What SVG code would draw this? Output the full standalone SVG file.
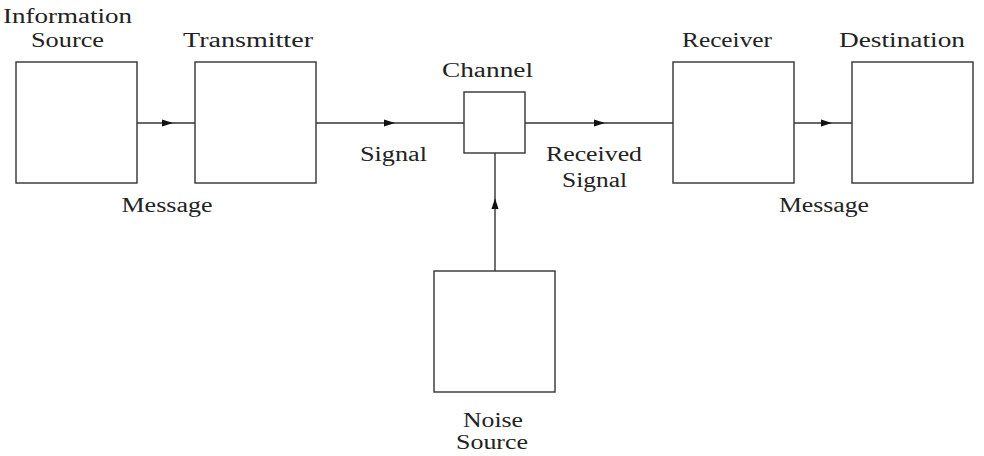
<svg xmlns="http://www.w3.org/2000/svg" width="984" height="456" viewBox="0 0 984 456">
<style>
.box{fill:#fff;stroke:#333;stroke-width:1.4}
.wire{fill:none;stroke:#333;stroke-width:1.4;marker-mid:url(#ah)}
text{font-family:"Liberation Serif","Times New Roman",serif;font-size:20px;fill:#222;text-anchor:middle}
</style>
<defs>
<marker id="ah" markerUnits="userSpaceOnUse" markerWidth="11" markerHeight="8" refX="11" refY="4" orient="auto">
<path d="M0,0.5 L11,4 L0,7.5 z" fill="#111"/>
</marker>
</defs>
<rect width="984" height="456" fill="#fff"/>
<g id="connectors">
<path class="wire" d="M137 123 L173 123 L195 123"/>
<path class="wire" d="M316 123 L395 123 L464 123"/>
<path class="wire" d="M525 123 L605 123 L673 123"/>
<path class="wire" d="M794 123 L832 123 L852 123"/>
<path class="wire" d="M495 271 L495 198 L495 153"/>
</g>
<g id="information-source">
<rect class="box" x="16" y="62" width="121" height="121"/>
<text x="67.5" y="23" textLength="129" lengthAdjust="spacingAndGlyphs">Information</text>
<text x="67.5" y="47" textLength="73" lengthAdjust="spacingAndGlyphs">Source</text>
</g>
<g id="transmitter">
<rect class="box" x="195" y="62" width="121" height="121"/>
<text x="248" y="47" textLength="130" lengthAdjust="spacingAndGlyphs">Transmitter</text>
</g>
<g id="channel">
<rect class="box" x="464" y="92" width="61" height="61"/>
<text x="487.5" y="77" textLength="91" lengthAdjust="spacingAndGlyphs">Channel</text>
</g>
<g id="receiver">
<rect class="box" x="673" y="62" width="121" height="121"/>
<text x="727" y="47" textLength="90" lengthAdjust="spacingAndGlyphs">Receiver</text>
</g>
<g id="destination">
<rect class="box" x="852" y="62" width="121" height="121"/>
<text x="902" y="47" textLength="126" lengthAdjust="spacingAndGlyphs">Destination</text>
</g>
<g id="noise-source">
<rect class="box" x="434" y="271" width="121" height="121"/>
<text x="493" y="427" textLength="60" lengthAdjust="spacingAndGlyphs">Noise</text>
<text x="492" y="449" textLength="72" lengthAdjust="spacingAndGlyphs">Source</text>
</g>
<g id="labels">
<text x="167" y="212" textLength="91" lengthAdjust="spacingAndGlyphs">Message</text>
<text x="393.5" y="161" textLength="67" lengthAdjust="spacingAndGlyphs">Signal</text>
<text x="594" y="161" textLength="96" lengthAdjust="spacingAndGlyphs">Received</text>
<text x="594.5" y="187" textLength="65" lengthAdjust="spacingAndGlyphs">Signal</text>
<text x="824" y="212" textLength="90" lengthAdjust="spacingAndGlyphs">Message</text>
</g>
</svg>
